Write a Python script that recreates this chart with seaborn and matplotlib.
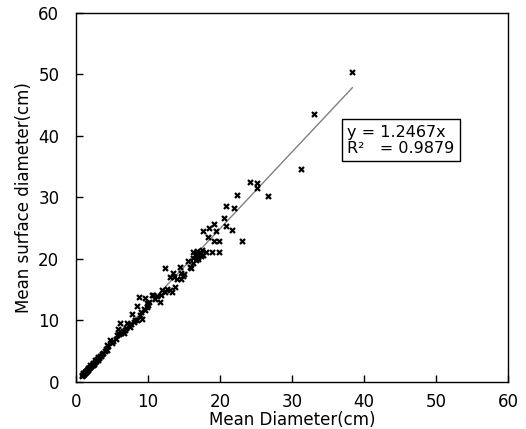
import numpy as np
import pandas as pd
import seaborn as sns
import matplotlib
matplotlib.use("Agg")
import matplotlib.pyplot as plt

# mean diameter (x) and mean surface diameter (y), cm
mean_diam = [
    0.8, 0.9, 1.0, 1.0, 1.1, 1.2, 1.2, 1.3, 1.4, 1.4, 1.5, 1.5, 1.6, 1.7, 1.7,
    1.8, 1.9, 2.0, 2.0, 2.1, 2.2, 2.3, 2.3, 2.4, 2.5, 2.6, 2.7, 2.8, 2.9, 3.0,
    3.1, 3.2, 3.3, 3.5, 3.6, 3.8, 4.0, 4.1, 4.3, 4.5,
    4.7, 4.3, 5.0, 5.2, 5.5, 5.7, 5.9, 6.1, 6.0, 6.3, 6.5, 6.7, 6.8, 7.0, 7.1,
    7.3, 7.5, 7.8, 7.6, 8.0, 8.2, 8.5, 8.5, 8.8, 8.9, 9.0, 9.2, 9.4, 9.6, 9.6,
    9.8, 9.9, 10.0, 10.2, 10.6, 10.7, 11.0, 11.3, 11.6, 11.8,
    12.0, 12.3, 12.4, 12.6, 13.0, 13.1, 13.4, 13.5, 13.6, 13.8, 14.0, 14.5, 14.6,
    14.6, 14.8, 15.0, 15.5, 15.9, 16.0, 16.2, 16.3, 16.3, 16.5, 16.6, 16.8, 16.9,
    17.0, 17.2, 17.4, 17.5, 17.7, 17.7, 18.0, 18.4, 18.5, 18.9, 19.1, 19.2, 19.5,
    19.8, 19.9,
    20.6, 20.9, 20.9, 21.6, 22.0, 22.4, 23.1, 24.1, 25.2, 25.2, 26.6, 31.3, 33.0,
    38.4,
]
surface_diam = [
    1.0, 1.2, 1.1, 1.4, 1.3, 1.6, 1.4, 1.7, 1.8, 1.6, 2.0, 1.8, 2.1, 2.0, 2.3,
    2.2, 2.5, 2.4, 2.7, 2.6, 2.8, 3.0, 2.8, 3.1, 3.0, 3.3, 3.5, 3.4, 3.7, 3.6,
    4.0, 3.9, 4.2, 4.3, 4.6, 4.7, 5.0, 5.3, 5.2, 5.8,
    6.8, 6.0, 6.3, 6.6, 7.0, 7.6, 8.6, 9.6, 7.8, 8.0, 8.3, 8.0, 8.5, 8.8, 9.6,
    9.2, 9.0, 11.1, 9.5, 9.8, 10.0, 10.1, 12.4, 13.8, 10.9, 11.3, 10.2, 11.8, 11.7, 13.7,
    12.2, 12.8, 12.5, 13.0, 14.1, 14.1, 13.5, 14.0, 13.0, 14.2,
    14.9, 18.5, 14.6, 15.2, 14.9, 17.1, 14.6, 17.7, 17.1, 15.5, 16.8, 18.7, 17.7,
    16.7, 17.2, 17.5, 19.6, 18.7, 18.5, 19.3, 20.2, 21.2, 20.6, 19.8, 21.3, 20.4,
    20.0, 21.0, 20.5, 21.5, 20.7, 24.6, 21.2, 23.6, 25.0, 21.1, 22.9, 25.7, 24.6,
    22.9, 21.1,
    26.7, 28.6, 25.4, 24.7, 28.3, 30.4, 22.9, 32.5, 32.4, 31.5, 30.2, 34.6, 43.6,
    50.4,
]

slope = 1.2467
r2 = 0.9879
ticks = [0, 10, 20, 30, 40, 50, 60]

df = pd.DataFrame({"x": mean_diam, "y": surface_diam})

sns.set_style("white")
plt.rcParams["font.family"] = ["DejaVu Sans"]
plt.rcParams["text.color"] = "black"
plt.rcParams["axes.labelcolor"] = "black"

fig = plt.figure(figsize=(5.26, 4.29), dpi=100)
ax = fig.add_axes([0.1445, 0.1096, 0.8213, 0.8601])

sns.scatterplot(data=df, x="x", y="y", marker="x", color="black", s=13,
                linewidth=1.6, ax=ax, zorder=3)

# trend line through origin
fit_x = np.array([df["x"].min(), df["x"].max()])
sns.lineplot(x=fit_x, y=slope * fit_x, color="#808080", linewidth=1.0, ax=ax)

ax.text(37.7, 39.3, f"y = {slope}x\nR²   = {r2}", fontsize=11.5,
        va="center", ha="left", linespacing=1.1,
        bbox=dict(boxstyle="square,pad=0.35", facecolor="white",
                  edgecolor="black", linewidth=1.0))

ax.set_xlim(0, 60)
ax.set_ylim(0, 60)
ax.set_xticks(ticks)
ax.set_yticks(ticks)
ax.tick_params(axis="x", bottom=True, direction="in", length=5, width=1,
               color="black", labelcolor="black", labelsize=12, pad=8)
ax.tick_params(axis="y", left=True, direction="in", length=5, width=1,
               color="black", labelcolor="black", labelsize=12, pad=12)
for s in ax.spines.values():
    s.set_color("black")
    s.set_linewidth(1.0)

ax.set_xlabel("Mean Diameter(cm)", fontsize=12, labelpad=0)
ax.set_ylabel("Mean surface diameter(cm)", fontsize=12, labelpad=4)

fig.savefig("out.png", dpi=100)
